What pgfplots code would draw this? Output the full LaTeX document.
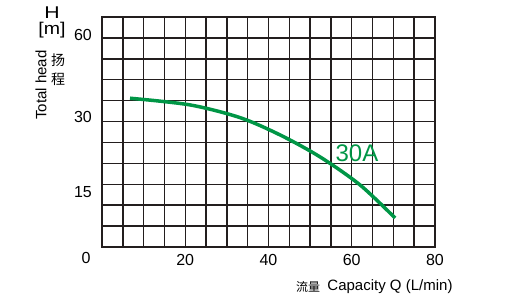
\documentclass[border=0pt]{standalone}
\usepackage{pgfplots}
\pgfplotsset{compat=1.18}
\usepackage{fontspec}
\setmainfont{Liberation Sans}
\newfontfamily\cjk{Noto Sans CJK SC}
\definecolor{curvegreen}{RGB}{0,150,70}
\definecolor{gridc}{RGB}{35,30,30}
\begin{document}
\begin{tikzpicture}
\useasboundingbox (0,0) rectangle (514pt,299pt);
\begin{axis}[
  at={(102pt,52pt)}, anchor=south west,
  scale only axis, width=333pt, height=230pt,
  xmin=0, xmax=80, ymin=0, ymax=66,
  xtick={0,5,...,80},
  xticklabels={,,,,20,,,,40,,,,60,,,,80},
  ytick={0,6,...,66},
  yticklabels={},
  extra y ticks={15.79,37.32,60.86},
  extra y tick labels={15,30,60},
  extra y tick style={grid=none, major tick length=0pt},
  major tick length=0pt,
  grid=major,
  major grid style={gridc, line width=1.4pt},
  axis line style={gridc, line width=1.4pt},
  /pgf/number format/assume math mode=true,
  tick label style={font=\fontsize{16}{19}\selectfont, inner sep=0pt},
  xticklabel style={anchor=center, yshift=-13pt},
  yticklabel style={anchor=east, xshift=-10pt},
  clip=false,
]
\addplot[curvegreen, line width=3.5pt, smooth] coordinates {
 (6.73,42.69) (21.15,40.77) (33.17,37.12) (42.79,32.15)
 (52.4,25.84) (62.0,17.8) (70.4,8.33)
};
\end{axis}
\node[font=\fontsize{16}{19}\selectfont, inner sep=0pt] at (86pt,41pt) {0};
\node[font=\fontsize{24}{28}\selectfont, text=curvegreen, inner sep=0pt] at (357pt,146pt) {30A};
\node[font=\fontsize{17}{20}\selectfont, inner sep=0pt, xscale=1.25] at (52pt,286pt) {H};
\node[font=\fontsize{17}{20}\selectfont, inner sep=0pt, xscale=1.15] at (52pt,269pt) {[m]};
\node[font=\fontsize{15}{18}\selectfont, inner sep=0pt, rotate=90] at (41pt,214pt) {Total head};
\node[font=\cjk\fontsize{14}{18.5}\selectfont, inner sep=0pt, align=center] at (58pt,229.5pt) {扬\\程};
\node[font=\cjk\fontsize{12}{14}\selectfont, inner sep=0pt] at (308pt,12pt) {流量};
\node[font=\fontsize{15}{18}\selectfont, inner sep=0pt] at (390pt,12pt) {Capacity Q (L/min)};
\end{tikzpicture}
\end{document}
